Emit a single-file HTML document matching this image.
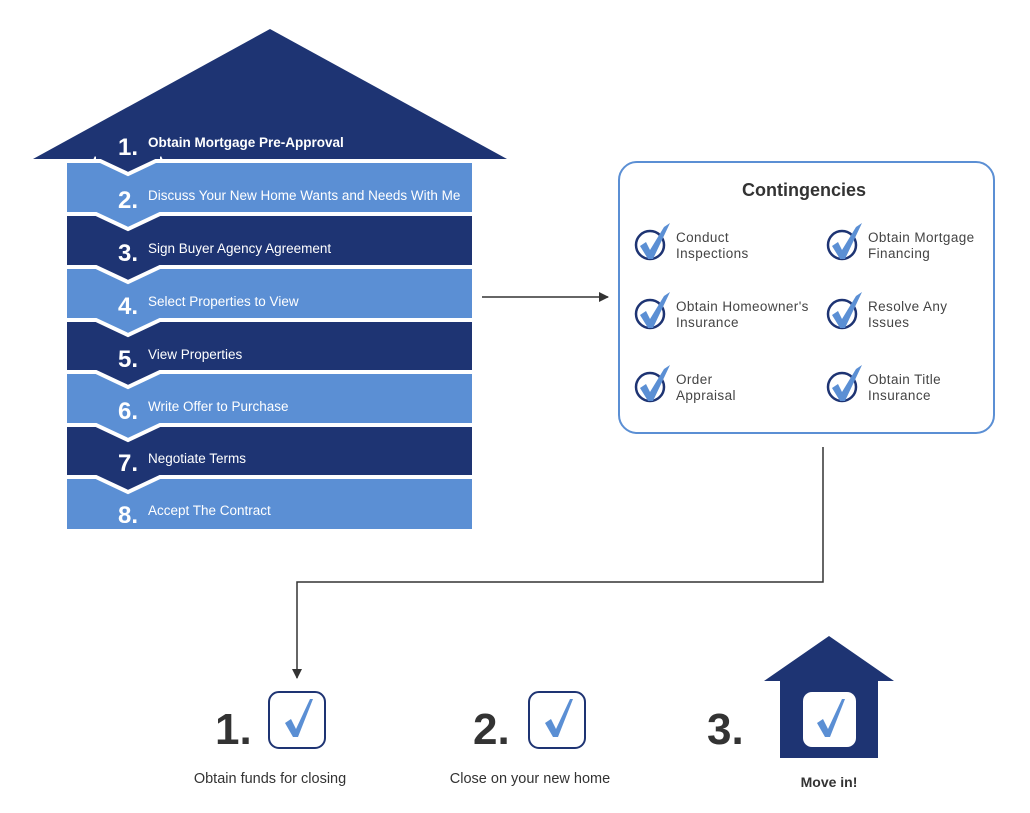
<!DOCTYPE html>
<html><head><meta charset="utf-8"><style>
html,body{margin:0;padding:0;background:#fff;}
svg{display:block;font-family:"Liberation Sans",sans-serif;}
</style></head><body>
<svg width="1030" height="813" viewBox="0 0 1030 813" xmlns="http://www.w3.org/2000/svg">
<defs>
<marker id="ah" markerWidth="10" markerHeight="10" refX="9" refY="5" orient="auto" markerUnits="userSpaceOnUse">
<path d="M0,0 L10,5 L0,10 z" fill="#333"/></marker>
<g id="cc">
<circle cx="0" cy="0" r="14" fill="none" stroke="#1e3473" stroke-width="2.5"/>
<path d="M-10,1 L-4,-3 L0,5 L14,-18 L20,-22 L3,14 L-2,14 z" fill="#5b8fd4"/>
</g>
<path id="ck" d="M-13,2 L-7,-2 L-2,8 L12,-22 L15,-22 L0,16 L-5,16 z" fill="#5b8fd4"/>
</defs>
<g stroke="#fff" stroke-width="4" stroke-linejoin="miter">
<rect x="65" y="477" width="409" height="54" fill="#5b8fd4"/>
<path d="M65,425 H474 V477 H160 L128,492 L96,477 H65 z" fill="#1e3473"/>
<path d="M65,372 H474 V425 H160 L128,440 L96,425 H65 z" fill="#5b8fd4"/>
<path d="M65,320 H474 V372 H160 L128,387 L96,372 H65 z" fill="#1e3473"/>
<path d="M65,267 H474 V320 H160 L128,335 L96,320 H65 z" fill="#5b8fd4"/>
<path d="M65,214 H474 V267 H160 L128,282 L96,267 H65 z" fill="#1e3473"/>
<path d="M65,161 H474 V214 H160 L128,229 L96,214 H65 z" fill="#5b8fd4"/>
</g>
<path d="M33,159 L270,29 L507,159 z" fill="#1e3473"/>
<path d="M94,158 L128,174 L162,158" fill="#1e3473" stroke="#fff" stroke-width="4"/>
<rect x="96" y="150" width="64" height="9" fill="#1e3473"/>
<g fill="#fff">
<g font-weight="bold" font-size="24">
<text x="118" y="155">1.</text><text x="118" y="208">2.</text><text x="118" y="261">3.</text><text x="118" y="314">4.</text>
<text x="118" y="367">5.</text><text x="118" y="419">6.</text><text x="118" y="471">7.</text><text x="118" y="523">8.</text>
</g>
<g font-size="13.5">
<text x="148" y="147" font-weight="bold">Obtain Mortgage Pre-Approval</text>
<text x="148" y="200">Discuss Your New Home Wants and Needs With Me</text>
<text x="148" y="253">Sign Buyer Agency Agreement</text>
<text x="148" y="306">Select Properties to View</text>
<text x="148" y="359">View Properties</text>
<text x="148" y="411">Write Offer to Purchase</text>
<text x="148" y="463">Negotiate Terms</text>
<text x="148" y="515">Accept The Contract</text>
</g>
</g>
<line x1="482" y1="297" x2="608" y2="297" stroke="#333" stroke-width="1.5" marker-end="url(#ah)"/>
<rect x="619" y="162" width="375" height="271" rx="18" fill="#fff" stroke="#5b8fd4" stroke-width="2"/>
<text x="804" y="196" text-anchor="middle" font-size="18" font-weight="bold" fill="#333">Contingencies</text>
<use href="#cc" x="650" y="245"/><use href="#cc" x="842" y="245"/>
<use href="#cc" x="650" y="314"/><use href="#cc" x="842" y="314"/>
<use href="#cc" x="650" y="387"/><use href="#cc" x="842" y="387"/>
<g font-size="13.5" fill="#444" letter-spacing="0.4">
<text x="676" y="242">Conduct</text><text x="676" y="258">Inspections</text>
<text x="868" y="242">Obtain Mortgage</text><text x="868" y="258">Financing</text>
<text x="676" y="311">Obtain Homeowner's</text><text x="676" y="327">Insurance</text>
<text x="868" y="311">Resolve Any</text><text x="868" y="327">Issues</text>
<text x="676" y="384">Order</text><text x="676" y="400">Appraisal</text>
<text x="868" y="384">Obtain Title</text><text x="868" y="400">Insurance</text>
</g>
<polyline points="823,447 823,582 297,582 297,678" fill="none" stroke="#333" stroke-width="1.5" marker-end="url(#ah)"/>
<g font-size="44" font-weight="bold" fill="#333">
<text x="215" y="744">1.</text><text x="473" y="744">2.</text><text x="707" y="744">3.</text>
</g>
<rect x="269" y="692" width="56" height="56" rx="10" fill="#fff" stroke="#1e3473" stroke-width="2"/>
<use href="#ck" x="298" y="721"/>
<rect x="529" y="692" width="56" height="56" rx="10" fill="#fff" stroke="#1e3473" stroke-width="2"/>
<use href="#ck" x="558" y="721"/>
<path d="M764,681 L829,636 L894,681 H878 V758 H780 V681 z" fill="#1e3473"/>
<rect x="803" y="692" width="53" height="55" rx="9" fill="#fff"/>
<use href="#ck" x="830" y="721"/>
<text x="270" y="783" text-anchor="middle" font-size="14.5" fill="#333">Obtain funds for closing</text>
<text x="530" y="783" text-anchor="middle" font-size="14.5" fill="#333">Close on your new home</text>
<text x="829" y="787" text-anchor="middle" font-size="14" font-weight="bold" fill="#333">Move in!</text>
</svg>
</body></html>
